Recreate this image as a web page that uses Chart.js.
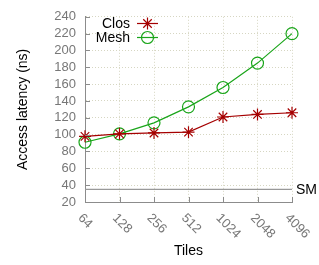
<!DOCTYPE html>
<html>
<head>
<meta charset="utf-8">
<script src="https://cdn.jsdelivr.net/npm/chart.js@4/dist/chart.umd.min.js"></script>
<style>
	html, body { margin: 0; padding: 0; background: #fff; }
	#wrap { width: 319px; height: 265px; }
</style>
</head>
<body>
<div id="wrap"><canvas id="chart" width="319" height="265"></canvas></div>
<script>
'use strict';

// Data
var tiles = ['64', '128', '256', '512', '1024', '2048', '4096'];
var closLatency = [98, 101, 102, 103, 121, 124, 126];
var meshLatency = [91, 101, 114, 133, 156, 185, 220];
var smLatency = [35, 35, 35, 35, 35, 35, 35];
var yTicks = [20, 40, 60, 80, 100, 120, 140, 160, 180, 200, 220, 240];

var FONT = '"Liberation Sans", Arial, sans-serif';
var CLOS_COLOR = '#a50000';
var MESH_COLOR = '#1aa51a';
var AXIS_COLOR = '#8c8c8c';
var GRID_COLOR = '#d6d6c2';

// Inward ticks, rotated x labels, titles and the legend, gnuplot style
var decorations = {
	id: 'decorations',
	afterDraw: function(chart) {
		var c = chart.ctx;
		var area = chart.chartArea;
		var xs = chart.scales.x;
		var ys = chart.scales.y;
		c.save();
		c.strokeStyle = AXIS_COLOR;
		c.lineWidth = 1;
		c.beginPath();
		yTicks.forEach(function(v) {
			var py = Math.round(ys.getPixelForValue(v)) + 0.5;
			c.moveTo(area.left, py);
			c.lineTo(area.left + 5, py);
		});
		tiles.forEach(function(t, i) {
			var px = Math.round(xs.getPixelForValue(i)) + 0.5;
			c.moveTo(px, area.bottom);
			c.lineTo(px, area.bottom - 5);
		});
		c.stroke();

		// x tick labels running down to the right
		c.fillStyle = '#777';
		c.font = '13px ' + FONT;
		c.textAlign = 'left';
		c.textBaseline = 'middle';
		tiles.forEach(function(t, i) {
			var px = xs.getPixelForValue(i);
			c.save();
			c.translate(px - 5, area.bottom + 14);
			c.rotate(Math.PI / 4);
			c.fillText(t, 0, 0);
			c.restore();
		});

		c.fillStyle = '#000';
		c.font = '14px ' + FONT;
		c.textAlign = 'center';
		c.fillText('Tiles', (area.left + area.right) / 2, 251);

		c.textAlign = 'left';
		c.fillText('SM', area.right + 4, ys.getPixelForValue(smLatency[0]) + 1);

		// legend
		var rows = [
			{ label: 'Clos', color: CLOS_COLOR, style: 'star', y: 23 },
			{ label: 'Mesh', color: MESH_COLOR, style: 'circle', y: 37 }
		];
		rows.forEach(function(r) {
			c.textAlign = 'right';
			c.fillStyle = '#000';
			c.fillText(r.label, 130, r.y + 1);
			c.strokeStyle = r.color;
			c.lineWidth = 1.2;
			c.beginPath();
			c.moveTo(137, r.y + 0.5);
			c.lineTo(158, r.y + 0.5);
			c.stroke();
			c.fillStyle = 'rgba(0,0,0,0)';
			Chart.helpers.drawPoint(c, {
				pointStyle: r.style,
				radius: 6,
				borderWidth: 1.2
			}, 147.5, r.y + 0.5);
		});
		c.restore();
	}
};

var ctx = document.getElementById('chart');
var data = {
	labels: tiles,
	datasets: [ {
		label: 'SM',
		data: smLatency,
		borderColor: '#999',
		borderWidth: 1.2,
		pointRadius: 0,
		order: 3
	}, {
		label: 'Mesh',
		data: meshLatency,
		borderColor: MESH_COLOR,
		backgroundColor: 'rgba(0,0,0,0)',
		borderWidth: 1.2,
		pointStyle: 'circle',
		pointRadius: 6,
		pointBorderWidth: 1.2,
		pointBorderColor: MESH_COLOR,
		pointBackgroundColor: 'rgba(0,0,0,0)',
		order: 2
	}, {
		label: 'Clos',
		data: closLatency,
		borderColor: CLOS_COLOR,
		borderWidth: 1.2,
		pointStyle: 'star',
		pointRadius: 6,
		pointBorderWidth: 1.2,
		pointBorderColor: CLOS_COLOR,
		order: 1
	} ]
};
var options = {
	responsive: false,
	animation: false,
	layout: {
		padding: { left: 0, right: 27, top: 7, bottom: 0 }
	},
	plugins: {
		legend: { display: false },
		tooltip: { enabled: false }
	},
	scales: {
		x: {
			type: 'category',
			offset: false,
			afterFit: function(scale) { scale.height = 63; },
			ticks: { display: false },
			grid: {
				color: GRID_COLOR,
				lineWidth: 1,
				drawTicks: false
			},
			border: { color: AXIS_COLOR, width: 1, dash: [1, 2] }
		},
		y: {
			min: 20,
			max: 240,
			afterFit: function(scale) { scale.width = 85; },
			afterBuildTicks: function(scale) {
				scale.ticks = yTicks.map(function(v) { return { value: v }; });
			},
			ticks: {
				color: '#777',
				padding: 9,
				autoSkip: false,
				font: { family: FONT, size: 13 }
			},
			title: {
				display: true,
				text: 'Access latency (ns)',
				color: '#000',
				padding: { top: 15, bottom: 0 },
				font: { family: FONT, size: 14 }
			},
			grid: {
				color: GRID_COLOR,
				lineWidth: 1,
				drawTicks: false
			},
			border: { color: AXIS_COLOR, width: 1, dash: [1, 2] }
		}
	}
};
new Chart(ctx, {
	type: 'line',
	data: data,
	options: options,
	plugins: [ decorations ]
});
</script>
</body>
</html>
